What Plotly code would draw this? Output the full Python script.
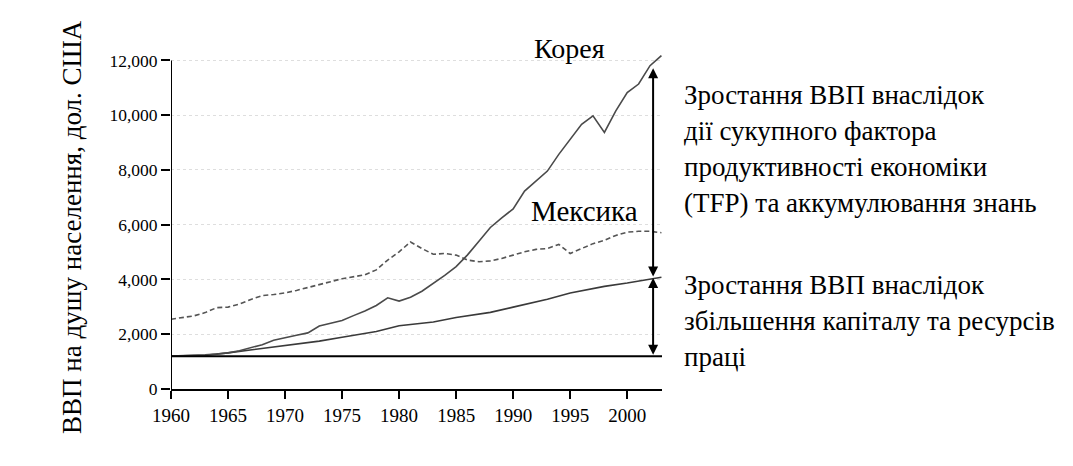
import plotly.graph_objects as go

# ---- data ----
years = list(range(1960, 2004))
korea = [1200, 1210, 1230, 1250, 1280, 1320, 1400, 1500, 1620, 1780,
         1880, 1960, 2050, 2300, 2400, 2500, 2680, 2850, 3050, 3330,
         3210, 3350, 3570, 3850, 4150, 4470, 4900, 5400, 5900, 6250,
         6580, 7230, 7600, 7960, 8570, 9120, 9670, 9980, 9370, 10160,
         10830, 11140, 11810, 12180]
mexico = [2550, 2600, 2670, 2790, 2970, 2990, 3100, 3270, 3410, 3450,
          3510, 3600, 3700, 3810, 3920, 4030, 4100, 4170, 4350, 4710,
          5010, 5370, 5130, 4920, 4950, 4890, 4710, 4650, 4680, 4770,
          4890, 5010, 5100, 5130, 5280, 4950, 5130, 5310, 5430, 5610,
          5730, 5760, 5760, 5710]
factor_years = [1960, 1963, 1965, 1968, 1970, 1973, 1975, 1978, 1980,
                1983, 1985, 1988, 1990, 1993, 1995, 1998, 2000, 2003]
factor_gdp = [1200, 1230, 1320, 1480, 1590, 1750, 1890, 2100, 2310,
              2450, 2610, 2800, 2990, 3280, 3510, 3750, 3870, 4080]
baseline_value = 1200
arrow_year = 2002.27
arrow_low = 1200
arrow_mid = 4050
arrow_top = 11720
y_ticks = [0, 2000, 4000, 6000, 8000, 10000, 12000]
y_tick_text = ["0", "2,000", "4,000", "6,000", "8,000", "10,000", "12,000"]
x_ticks = [1960, 1965, 1970, 1975, 1980, 1985, 1990, 1995, 2000]
x_range = [1960, 2003.05]
y_range = [0, 12200]

label_korea = "Корея"
label_mexico = "Мексика"
y_title = "ВВП на душу населення, дол. США"
text_tfp = ["Зростання ВВП внаслідок",
            "дії сукупного фактора",
            "продуктивності економіки",
            "(TFP) та аккумулювання знань"]
text_cap = ["Зростання ВВП внаслідок",
            "збільшення капіталу та ресурсів",
            "праці"]

# ---- layout geometry (page pixels; page body has an 8px margin) ----
W, H = 1073, 466
OFF = 8
L, R, T, B = 171 - OFF, 662 - OFF, 55 - OFF, 389 - OFF
FONT = "Liberation Serif, DejaVu Serif, serif"


def px(xp):
    return (xp - OFF - L) / (R - L)


def py(yp):
    return (B - (yp - OFF)) / (B - T)


def note(text, xp, yp, size, xanchor="center", angle=0):
    return dict(x=px(xp), y=py(yp), xref="paper", yref="paper",
                text=text, showarrow=False, xanchor=xanchor,
                yanchor="middle", textangle=angle, borderpad=0,
                font=dict(family=FONT, size=size, color="black"))


fig = go.Figure()

fig.add_trace(go.Scatter(x=years, y=mexico, mode="lines",
                         line=dict(color="#555555", width=1.6, dash="5px,3px"),
                         hoverinfo="skip"))
fig.add_trace(go.Scatter(x=factor_years, y=factor_gdp, mode="lines",
                         line=dict(color="#3a3a3a", width=1.6),
                         hoverinfo="skip"))
fig.add_trace(go.Scatter(x=years, y=korea, mode="lines",
                         line=dict(color="#4a4a4a", width=1.6),
                         hoverinfo="skip"))

# baseline
fig.add_shape(type="line", xref="x", yref="y", x0=x_range[0], x1=x_range[1],
              y0=baseline_value, y1=baseline_value,
              line=dict(color="black", width=2))
# y axis line only up to 12000
fig.add_shape(type="line", xref="x", yref="y", x0=x_range[0], x1=x_range[0],
              y0=0, y1=y_ticks[-1], line=dict(color="black", width=2))

annotations = []
for y0, y1 in [(arrow_mid, arrow_top), (arrow_low, arrow_mid)]:
    annotations.append(dict(x=arrow_year, y=y1, ax=arrow_year, ay=y0,
                            xref="x", yref="y", axref="x", ayref="y",
                            text="", showarrow=True, arrowhead=2,
                            arrowside="end+start", arrowsize=1,
                            arrowwidth=2, arrowcolor="black"))

annotations.append(note(label_korea, 569, 49, 28))
annotations.append(note(label_mexico, 584, 211, 29))
annotations.append(note(y_title, 72, 227, 27, angle=-90))
for t, yy in zip(text_tfp, [95, 131, 167, 203]):
    annotations.append(note(t, 683, yy, 27, xanchor="left"))
for t, yy in zip(text_cap, [285, 321, 357]):
    annotations.append(note(t, 683, yy, 27, xanchor="left"))

fig.update_layout(
    width=W, height=H,
    margin=dict(l=L, r=W - R, t=T, b=H - B, pad=0),
    paper_bgcolor="white", plot_bgcolor="white",
    showlegend=False,
    annotations=annotations,
    font=dict(family=FONT, color="black"),
    xaxis=dict(range=x_range, tickvals=x_ticks, ticks="outside",
               ticklen=8, tickwidth=2, tickcolor="black",
               showline=True, linecolor="black", linewidth=2,
               showgrid=False, zeroline=False,
               tickfont=dict(family=FONT, size=19, color="black")),
    yaxis=dict(range=y_range, tickvals=y_ticks, ticktext=y_tick_text,
               ticks="outside", ticklen=9, tickwidth=2, tickcolor="black",
               showline=False, showgrid=True, gridcolor="#dedede",
               griddash="dot", gridwidth=1, zeroline=False,
               tickfont=dict(family=FONT, size=17.5, color="black")),
)

fig.write_html("out.html")
